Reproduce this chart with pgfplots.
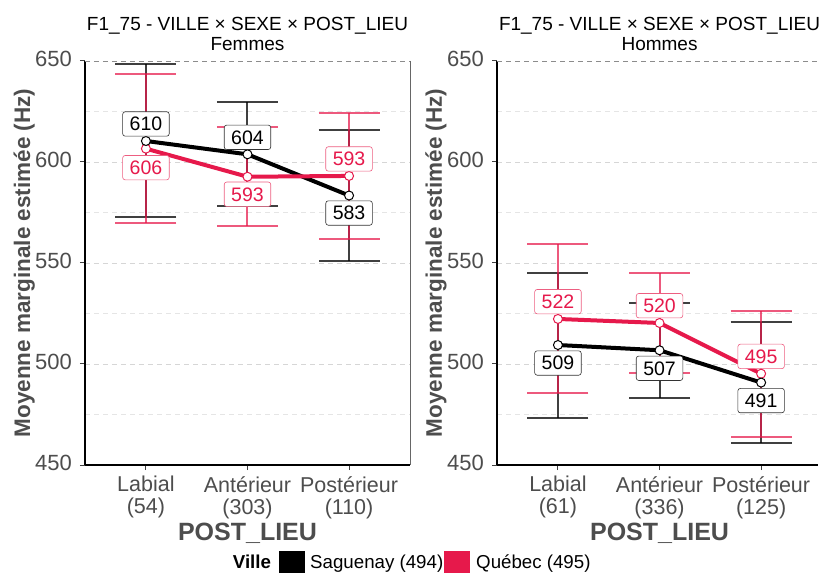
\documentclass[border=0pt]{standalone}
\usepackage{fontspec}
\setmainfont{Liberation Sans}
\usepackage{pgfplots}
\usepackage{pgfplotstable}
\pgfplotsset{compat=1.18}
\definecolor{qred}{RGB}{230,25,75}
\definecolor{gtxt}{RGB}{77,77,77}

\pgfplotstableread{
x y ep em
1 610.4 38.1 37.6
2 603.8 25.9 25.4
3 583.4 32.4 32.3
}\FSag
\pgfplotstableread{
x y ep em
1 606.6 36.8 36.8
2 592.7 24.6 24.5
3 593.1 31.2 31.4
}\FQue
\pgfplotstableread{
x y ep em
1 509.4 35.8 36.0
2 506.8 23.6 23.8
3 490.8 30.1 30.1
}\HSag
\pgfplotstableread{
x y ep em
1 522.3 37.1 36.8
2 520.3 24.6 24.6
3 495.2 31.0 31.2
}\HQue

\tikzset{
 lK/.style={fill=white, draw=black!80, rounded corners=2.5bp, line width=0.6bp, text=black,
   font=\fontsize{19.5bp}{20bp}\selectfont, inner xsep=7bp, inner ysep=5.3bp, text height=13.8bp, text depth=0pt, anchor=center},
 lR/.style={lK, draw=qred!70, text=qred},
 ttl/.style={anchor=base, inner sep=0pt, font=\fontsize{19bp}{22bp}\selectfont},
 sub/.style={anchor=base, inner sep=0pt, font=\fontsize{19bp}{22bp}\selectfont},
 xlab/.style={anchor=base, inner sep=0pt, font=\bfseries\fontsize{25bp}{28bp}\selectfont, text=gtxt},
 ylab/.style={rotate=90, anchor=base, inner sep=0pt, font=\bfseries\fontsize{22.5bp}{24bp}\selectfont, text=gtxt},
}

\pgfplotsset{
 panel/.style={
  scale only axis, width=325bp, height=404bp,
  xmin=0.4, xmax=3.6, ymin=450, ymax=650,
  axis lines*=left, clip=false,
  axis line style={line width=1.3bp, black, -},
  xtick={1,2,3}, ytick={450,500,550,600,650}, minor ytick={475,525,575,625},
  ymajorgrids, yminorgrids,
  major grid style={dash pattern=on 5bp off 4bp, line width=0.7bp, color=black!16},
  minor grid style={dash pattern=on 5bp off 4bp, line width=0.6bp, color=black!10},
  tick align=outside, major tick length=5bp, minor tick length=0pt,
  tick style={line width=1bp, color=black!75},
  /pgf/number format/assume math mode=true,
  yticklabel style={font=\fontsize{22bp}{24bp}\selectfont, text=gtxt, anchor=east, inner sep=0pt, xshift=-8bp, yshift=2bp},
  xticklabel style={font=\fontsize{21.5bp}{22bp}\selectfont, text=gtxt, anchor=north, inner sep=0pt, align=center, yshift=-6bp},
 },
 ebK/.style={only marks, mark=none, forget plot, error bars/.cd, y dir=both, y explicit,
   error bar style={line width=2bp, color=black, opacity=0.75},
   error mark options={rotate=90, mark size=30.5bp, line width=2bp, color=black, opacity=0.75}},
 ebR/.style={only marks, mark=none, forget plot, error bars/.cd, y dir=both, y explicit,
   error bar style={line width=2bp, color=qred, opacity=0.72},
   error mark options={rotate=90, mark size=30.5bp, line width=2bp, color=qred, opacity=0.72}},
 lnK/.style={line width=4bp, black, mark=none},
 lnR/.style={line width=4bp, qred, mark=none},
 ptK/.style={only marks, mark=*, mark size=4.5bp, mark options={fill=white, draw=black, line width=1bp}},
 ptR/.style={only marks, mark=*, mark size=4.5bp, mark options={fill=white, draw=qred, line width=1bp}},
 lblbase/.style={only marks, mark=none, point meta=explicit symbolic, nodes near coords},
}

\begin{document}
\begin{tikzpicture}
\useasboundingbox (-85bp,-109bp) rectangle (734bp,465bp);

% ---------- Femmes ----------
\begin{axis}[panel, xticklabels={{Labial\\(54)},{Antérieur\\(303)},{Postérieur\\(110)}}]
\addplot[ebK] table[x=x, y=y, y error plus=ep, y error minus=em] {\FSag};
\addplot[ebR] table[x=x, y=y, y error plus=ep, y error minus=em] {\FQue};
\addplot[lnK] table[x=x, y=y] {\FSag};
\addplot[lnR] table[x=x, y=y] {\FQue};
\addplot[ptR] table[x=x, y=y] {\FQue};
\addplot[ptK] table[x=x, y=y] {\FSag};
\addplot[lblbase, nodes near coords style={lK, yshift=17bp}] coordinates {(1,610.4)[610] (2,603.8)[604]};
\addplot[lblbase, nodes near coords style={lK, yshift=-17.5bp}] coordinates {(3,583.4)[583]};
\addplot[lblbase, nodes near coords style={lR, yshift=17bp}] coordinates {(3,593.1)[593]};
\addplot[lblbase, nodes near coords style={lR, yshift=-19bp}] coordinates {(1,606.6)[606]};
\addplot[lblbase, nodes near coords style={lR, yshift=-17.5bp}] coordinates {(2,592.7)[593]};
\draw[black!45, line width=0.8bp, dash pattern=on 5bp off 4bp] (axis cs:0.4,650) -- (axis cs:3.6,650);
\draw[black!60, line width=0.8bp] (axis cs:3.6,650) -- (axis cs:3.6,450);
\node[ttl, yshift=30bp] at (axis cs:2,650) {F1\_75 - VILLE × SEXE × POST\_LIEU};
\node[sub, yshift=10bp] at (axis cs:2,650) {Femmes};
\node[xlab, yshift=-75bp] at (axis cs:2,450) {POST\_LIEU};
\node[ylab] at (axis cs:-0.1415,550) {Moyenne marginale estimée (Hz)};
\end{axis}

% ---------- Hommes ----------
\begin{axis}[panel, at={(412bp,0)}, width=321bp, xmax=3.56, xticklabels={{Labial\\(61)},{Antérieur\\(336)},{Postérieur\\(125)}}]
\addplot[ebK] table[x=x, y=y, y error plus=ep, y error minus=em] {\HSag};
\addplot[ebR] table[x=x, y=y, y error plus=ep, y error minus=em] {\HQue};
\addplot[lnK] table[x=x, y=y] {\HSag};
\addplot[lnR] table[x=x, y=y] {\HQue};
\addplot[ptR] table[x=x, y=y] {\HQue};
\addplot[ptK] table[x=x, y=y] {\HSag};
\addplot[lblbase, nodes near coords style={lR, yshift=17.3bp}] coordinates {(1,522.3)[522] (2,520.3)[520] (3,495.2)[495]};
\addplot[lblbase, nodes near coords style={lK, yshift=-18bp}] coordinates {(1,509.4)[509] (2,506.8)[507] (3,490.8)[491]};
\draw[black!45, line width=0.8bp, dash pattern=on 5bp off 4bp] (axis cs:0.4,650) -- (axis cs:3.56,650);
\node[ttl, yshift=30bp] at (axis cs:2,650) {F1\_75 - VILLE × SEXE × POST\_LIEU};
\node[sub, yshift=10bp] at (axis cs:2,650) {Hommes};
\node[xlab, yshift=-75bp] at (axis cs:2,450) {POST\_LIEU};
\node[ylab] at (axis cs:-0.1415,550) {Moyenne marginale estimée (Hz)};
\end{axis}

% ---------- Legend ----------
\node[anchor=base west, inner sep=0pt, font=\bfseries\fontsize{18.7bp}{20bp}\selectfont] at (147.7bp,-103.7bp) {Ville};
\fill[black] (194bp,-108bp) rectangle (220bp,-86bp);
\node[anchor=base west, inner sep=0pt, font=\fontsize{18.7bp}{20bp}\selectfont] at (225bp,-103.7bp) {Saguenay (494)};
\fill[qred] (359bp,-108bp) rectangle (385bp,-86bp);
\node[anchor=base west, inner sep=0pt, font=\fontsize{18.7bp}{20bp}\selectfont] at (391bp,-103.7bp) {Québec (495)};
\end{tikzpicture}
\end{document}
